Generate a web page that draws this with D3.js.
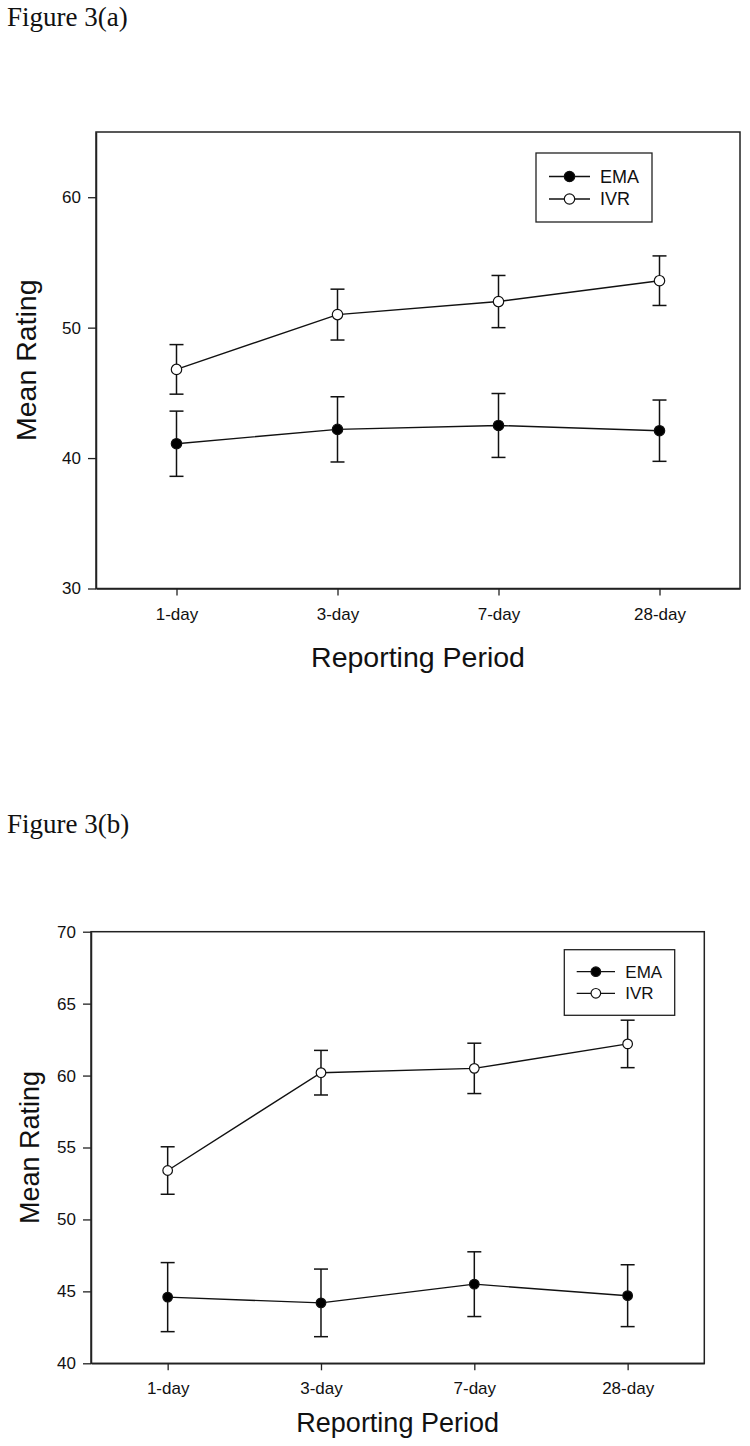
<!DOCTYPE html>
<html>
<head>
<meta charset="utf-8">
<script src="https://cdn.jsdelivr.net/npm/d3@7"></script>
<style>
  html, body { margin: 0; padding: 0; background: #fff; }
  svg { display: block; }
</style>
</head>
<body>
<script>
// ---- data ----
const categories = ["1-day", "3-day", "7-day", "28-day"];
const seriesNames = ["EMA", "IVR"];

// Figure 3(a)
const emaA = [41.1, 42.2, 42.5, 42.1];
const emaErrA = [2.5, 2.5, 2.45, 2.35];
const ivrA = [46.8, 51.0, 52.0, 53.6];
const ivrErrA = [1.9, 1.95, 2.0, 1.9];
const yDomainA = [30, 65];
const yTicksA = [30, 40, 50, 60];

// Figure 3(b)
const emaB = [44.6, 44.2, 45.5, 44.7];
const emaErrB = [2.4, 2.35, 2.25, 2.15];
const ivrB = [53.4, 60.2, 60.5, 62.2];
const ivrErrB = [1.65, 1.55, 1.75, 1.65];
const yDomainB = [40, 70];
const yTicksB = [40, 45, 50, 55, 60, 65, 70];

const W = 750, H = 1446;
const sans = "'Liberation Sans', Arial, sans-serif";
const serif = "'Liberation Serif', 'Times New Roman', serif";

const svg = d3.select("body").append("svg")
  .attr("width", W).attr("height", H)
  .attr("viewBox", `0 0 ${W} ${H}`);

svg.append("rect").attr("width", W).attr("height", H).attr("fill", "#fff");

function drawPanel(cfg) {
  const g = svg.append("g");
  const x = d3.scalePoint().domain(categories).range([cfg.left, cfg.right]).padding(0.5);
  const y = d3.scaleLinear().domain(cfg.yDomain).range([cfg.bottom, cfg.top]);

  // figure label
  svg.append("text")
    .attr("x", 7).attr("y", cfg.figY)
    .attr("font-family", serif).attr("font-size", 27)
    .attr("fill", "#111")
    .text(cfg.figLabel);

  // frame
  g.append("rect")
    .attr("x", cfg.left).attr("y", cfg.top)
    .attr("width", cfg.right - cfg.left).attr("height", cfg.bottom - cfg.top)
    .attr("fill", "none").attr("stroke", "#222").attr("stroke-width", 1.5);

  // y axis
  const yAxis = d3.axisLeft(y).tickValues(cfg.yTicks).tickSizeInner(8).tickSizeOuter(0).tickPadding(7)
    .tickFormat(d3.format("d"));
  const ya = g.append("g").attr("transform", `translate(${cfg.left},0)`).call(yAxis);
  ya.select(".domain").attr("stroke", "#222").attr("stroke-width", 1.5);
  ya.selectAll(".tick line").attr("stroke", "#222").attr("stroke-width", 1.3);
  ya.selectAll(".tick text").attr("font-family", sans).attr("font-size", 17).attr("fill", "#111");

  // x axis
  const xAxis = d3.axisBottom(x).tickSizeInner(7).tickSizeOuter(0).tickPadding(12);
  const xa = g.append("g").attr("transform", `translate(0,${cfg.bottom})`).call(xAxis);
  xa.select(".domain").attr("stroke", "#222").attr("stroke-width", 1.5);
  xa.selectAll(".tick line").attr("stroke", "#222").attr("stroke-width", 1.3);
  xa.selectAll(".tick text").attr("font-family", sans).attr("font-size", 17).attr("fill", "#111");

  // axis titles
  g.append("text")
    .attr("x", (cfg.left + cfg.right) / 2).attr("y", cfg.xTitleY)
    .attr("text-anchor", "middle")
    .attr("font-family", sans).attr("font-size", cfg.titleSize).attr("fill", "#111")
    .text("Reporting Period");
  g.append("text")
    .attr("transform", `translate(${cfg.yTitleX},${(cfg.top + cfg.bottom) / 2}) rotate(-90)`)
    .attr("text-anchor", "middle")
    .attr("font-family", sans).attr("font-size", cfg.titleSize).attr("fill", "#111")
    .text("Mean Rating");

  const series = [
    { name: seriesNames[0], vals: cfg.ema, errs: cfg.emaErr, fill: "#000" },
    { name: seriesNames[1], vals: cfg.ivr, errs: cfg.ivrErr, fill: "#fff" }
  ];

  const line = d3.line().x((d, i) => x(categories[i])).y(d => y(d));
  const cap = 7;

  series.forEach(s => {
    // error bars
    const eb = g.append("g");
    s.vals.forEach((v, i) => {
      const cx = x(categories[i]);
      const y1 = y(v + s.errs[i]), y0 = y(v - s.errs[i]);
      eb.append("line").attr("x1", cx).attr("x2", cx).attr("y1", y1).attr("y2", y0)
        .attr("stroke", "#111").attr("stroke-width", 1.5);
      eb.append("line").attr("x1", cx - cap).attr("x2", cx + cap).attr("y1", y1).attr("y2", y1)
        .attr("stroke", "#111").attr("stroke-width", 1.5);
      eb.append("line").attr("x1", cx - cap).attr("x2", cx + cap).attr("y1", y0).attr("y2", y0)
        .attr("stroke", "#111").attr("stroke-width", 1.5);
    });
    g.append("path").datum(s.vals).attr("d", line)
      .attr("fill", "none").attr("stroke", "#111").attr("stroke-width", 1.4);
    g.selectAll(null).data(s.vals).enter().append("circle")
      .attr("cx", (d, i) => x(categories[i])).attr("cy", d => y(d))
      .attr("r", cfg.r).attr("fill", s.fill).attr("stroke", "#111").attr("stroke-width", 1.2);
  });

  // legend
  const L = cfg.legend;
  g.append("rect").attr("x", L.x).attr("y", L.y).attr("width", L.w).attr("height", L.h)
    .attr("fill", "#fff").attr("stroke", "#222").attr("stroke-width", 1.3);
  series.forEach((s, i) => {
    const ly = L.y + L.row0 + i * L.rowGap;
    g.append("line").attr("x1", L.x + L.lineX0).attr("x2", L.x + L.lineX1)
      .attr("y1", ly).attr("y2", ly).attr("stroke", "#111").attr("stroke-width", 1.3);
    g.append("circle").attr("cx", L.x + (L.lineX0 + L.lineX1) / 2).attr("cy", ly)
      .attr("r", cfg.r).attr("fill", s.fill).attr("stroke", "#111").attr("stroke-width", 1.2);
    g.append("text").attr("x", L.x + L.textX).attr("y", ly).attr("dy", "0.36em")
      .attr("font-family", sans).attr("font-size", L.fs).attr("fill", "#111")
      .text(s.name);
  });
}

drawPanel({
  figLabel: "Figure 3(a)", figY: 26,
  left: 96, right: 740, top: 132, bottom: 588.5,
  yDomain: yDomainA, yTicks: yTicksA,
  ema: emaA, emaErr: emaErrA, ivr: ivrA, ivrErr: ivrErrA,
  r: 5.2, titleSize: 28.5, xTitleY: 667, yTitleX: 36,
  legend: { x: 536, y: 153, w: 116, h: 69, row0: 23.5, rowGap: 22.5,
            lineX0: 13, lineX1: 54, textX: 64, fs: 18 }
});

drawPanel({
  figLabel: "Figure 3(b)", figY: 833,
  left: 91, right: 704.3, top: 931.7, bottom: 1363.3,
  yDomain: yDomainB, yTicks: yTicksB,
  ema: emaB, emaErr: emaErrB, ivr: ivrB, ivrErr: ivrErrB,
  r: 4.8, titleSize: 27, xTitleY: 1432, yTitleX: 39,
  legend: { x: 564.3, y: 949.7, w: 110.4, h: 65.6, row0: 22, rowGap: 21.6,
            lineX0: 12.4, lineX1: 50.7, textX: 61, fs: 17 }
});
</script>
</body>
</html>
